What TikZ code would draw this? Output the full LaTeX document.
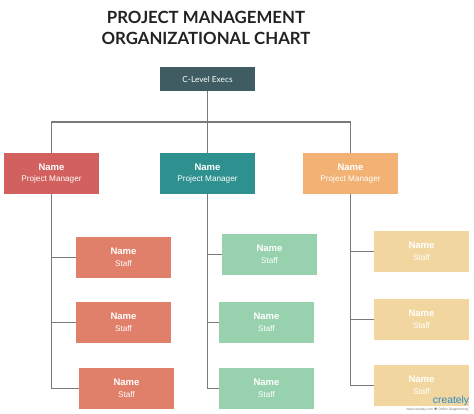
\documentclass[tikz,border=0pt]{standalone}
\usepackage{fontspec}
\setmainfont{Liberation Sans}
\newfontfamily\latofont{Lato}

\definecolor{titlegray}{HTML}{222222}
\definecolor{execgray}{HTML}{3E5C62}
\definecolor{linegray}{HTML}{7A7A7A}
\definecolor{pmred}{HTML}{D1605E}
\definecolor{pmteal}{HTML}{2E918F}
\definecolor{pmorange}{HTML}{F1B274}
\definecolor{staffred}{HTML}{E0806A}
\definecolor{staffgreen}{HTML}{97D1AD}
\definecolor{staffsand}{HTML}{F2D6A0}
\definecolor{logoblue}{HTML}{2A8BC8}

\newcommand{\boxtext}[1]{{\fontsize{9.5}{10}\selectfont\bfseries Name}\\[-0.5pt]{\fontsize{8.2}{10}\selectfont #1}}

\begin{document}
\begin{tikzpicture}[x=1pt,y=-1pt,
    box/.style={minimum width=95pt,minimum height=41pt,inner sep=0pt,align=center,text=white},
    link/.style={draw=linegray,line width=1.1pt}]
    \useasboundingbox (0,0) rectangle (474,414);

    \node[font=\latofont\bfseries\fontsize{16.8}{21}\selectfont,text=titlegray,align=center] (title) at (206,27.5)
        {PROJECT MANAGEMENT\\ORGANIZATIONAL CHART};

    \node[box,fill=execgray,minimum height=24pt,font=\latofont\fontsize{8.3}{9}\selectfont] (exec) at (207.5,79) {C-Level Execs};
    \coordinate (bus) at (207.5,122);

    % project managers
    \node[box,fill=pmred] (pmA) at (51.5,173.5) {\boxtext{Project Manager}};
    \node[box,fill=pmteal] (pmB) at (207.5,173.5) {\boxtext{Project Manager}};
    \node[box,fill=pmorange] (pmC) at (350.5,173.5) {\boxtext{Project Manager}};

    % staff
    \foreach \n/\c/\x/\y in {sA1/staffred/123.5/257.5, sA2/staffred/123.5/322.5, sA3/staffred/126.5/388.5,
                             sB1/staffgreen/269.5/254.5, sB2/staffgreen/266.5/322.5, sB3/staffgreen/266.5/388.5,
                             sC1/staffsand/421.5/251.5, sC2/staffsand/421.5/319.5, sC3/staffsand/421.5/385.5}
        \node[box,fill=\c] (\n) at (\x,\y) {\boxtext{Staff}};

    \draw[link] (exec.south) -- (bus);
    \draw[link] (pmA.north) |- (bus) -| (pmC.north);
    \draw[link] (bus) -- (pmB.north);
    \foreach \p/\s in {A,B,C}
        \foreach \k in {1,2,3}
            \draw[link] (pm\p.south) |- (s\p\k.west);

    % watermark
    \node[text=logoblue,font=\fontsize{10.3}{11}\selectfont,inner sep=0pt] (logo) at (451,400.5) {creately};
    \node[text=linegray,font=\fontsize{3.3}{4}\selectfont,inner sep=0pt] (logourl) at (437.5,409.5) {www.creately.com $\bullet$ Online Diagramming};
\end{tikzpicture}
\end{document}
